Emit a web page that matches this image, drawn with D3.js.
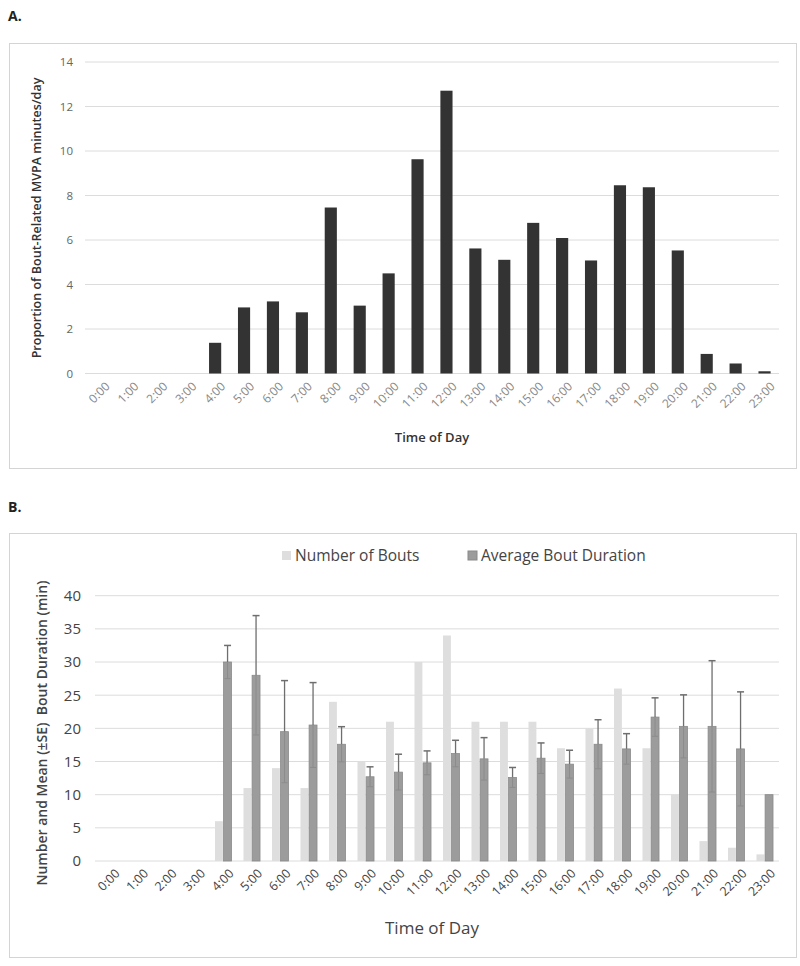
<!DOCTYPE html>
<html>
<head>
<meta charset="utf-8">
<script src="https://cdn.jsdelivr.net/npm/d3@7"></script>
<style>
  body { margin: 0; background: #fff; }
  svg text { font-family: "Open Sans", sans-serif; }
</style>
</head>
<body>
<div id="g-container"></div>
<script>
	// categories and values
	var hours = ["0:00","1:00","2:00","3:00","4:00","5:00","6:00","7:00","8:00","9:00","10:00","11:00",
		"12:00","13:00","14:00","15:00","16:00","17:00","18:00","19:00","20:00","21:00","22:00","23:00"];

	var mvpaProportion = [0,0,0,0,1.38,2.97,3.24,2.75,7.46,3.05,4.5,9.63,12.71,5.62,5.11,6.77,6.09,5.08,8.46,8.37,5.53,0.88,0.45,0.1];
	var yTicksA = [0,2,4,6,8,10,12,14];

	var numberOfBouts = [0,0,0,0,6,11,14,11,24,15,21,30,34,21,21,21,17,20,26,17,10,3,2,1];
	var avgBoutDuration = [0,0,0,0,30,28,19.5,20.5,17.6,12.7,13.4,14.8,16.2,15.4,12.6,15.5,14.6,17.6,16.9,21.7,20.3,20.3,16.9,10];
	var boutSE = [0,0,0,0,2.5,9,7.7,6.4,2.65,1.5,2.7,1.8,2.0,3.2,1.5,2.3,2.1,3.7,2.3,2.9,4.75,9.9,8.6,0];
	var yTicksB = [0,5,10,15,20,25,30,35,40];
	var seriesNames = ["Number of Bouts", "Average Bout Duration"];

	var W = 800, H = 966;
	var svg = d3.select("#g-container").append("svg").attr("width", W).attr("height", H)

	svg.append("rect").attr("width", W).attr("height", H).attr("fill", "#fff")

	// ---------- panel A ----------
	svg.append("text").attr("x", 8).attr("y", 21).text("A.")
		.style("font-size", "14px").style("font-weight", "bold").style("fill", "#222")

	svg.append("rect").attr("x", 9.5).attr("y", 43.5).attr("width", 787).attr("height", 425)
		.attr("fill", "none").attr("stroke", "#d4d4d4")

	var xA = d3.scaleBand().domain(hours).range([85, 779]).paddingInner(0.58).paddingOuter(0.29)
	var yA = d3.scaleLinear().domain([0, 14]).range([373.5, 62])

	var gA = svg.append("g")
	gA.selectAll(".gridA").data(yTicksA).enter().append("line")
		.attr("x1", 85).attr("x2", 779)
		.attr("y1", function(d){ return yA(d) }).attr("y2", function(d){ return yA(d) })
		.attr("stroke", "#dcdcdc").attr("stroke-width", 1)

	var axisA = gA.append("g").attr("transform", "translate(85,0)")
		.call(d3.axisLeft(yA).tickValues(yTicksA).tickSize(0).tickPadding(12))
	axisA.select(".domain").remove()
	axisA.selectAll("text").style("font-size", "11.5px").style("fill", "#666").style("font-family", "Open Sans, sans-serif")

	gA.selectAll(".barA").data(mvpaProportion).enter().append("rect")
		.attr("x", function(d, i){ return xA(hours[i]) })
		.attr("width", xA.bandwidth())
		.attr("y", function(d){ return yA(d) })
		.attr("height", function(d){ return yA(0) - yA(d) })
		.attr("fill", "#333")

	var xAxisA = gA.append("g").attr("transform", "translate(0,378)")
		.call(d3.axisBottom(xA).tickSize(0).tickPadding(0))
	xAxisA.select(".domain").remove()
	xAxisA.selectAll("text")
		.attr("text-anchor", "end")
		.attr("transform", "translate(6,4) rotate(-45)")
		.attr("dy", "0.6em")
		.style("font-size", "12px").style("fill", "#888").style("font-family", "Open Sans, sans-serif")

	gA.append("text").attr("x", 432).attr("y", 442).attr("text-anchor", "middle")
		.text("Time of Day")
		.style("font-size", "13px").style("font-weight", "600").style("fill", "#333")

	gA.append("text").attr("transform", "translate(41,218) rotate(-90)").attr("text-anchor", "middle")
		.text("Proportion of Bout-Related MVPA minutes/day")
		.style("font-size", "12.5px").style("font-weight", "600").style("fill", "#333")

	// ---------- panel B ----------
	svg.append("text").attr("x", 8).attr("y", 512).text("B.")
		.style("font-size", "14px").style("font-weight", "bold").style("fill", "#222")

	svg.append("rect").attr("x", 9.5).attr("y", 533.5).attr("width", 787).attr("height", 424)
		.attr("fill", "none").attr("stroke", "#d4d4d4")

	var xB = d3.scaleBand().domain(hours).range([95, 779]).paddingInner(0.42).paddingOuter(0.21)
	var xSub = d3.scaleBand().domain(seriesNames).range([0, xB.bandwidth()]).paddingInner(0.08)
	var yB = d3.scaleLinear().domain([0, 40]).range([861, 595.7])
	var colors = {"Number of Bouts": "#dedede", "Average Bout Duration": "#9c9c9c"}

	var gB = svg.append("g")
	gB.selectAll(".gridB").data(yTicksB).enter().append("line")
		.attr("x1", 95).attr("x2", 779)
		.attr("y1", function(d){ return yB(d) }).attr("y2", function(d){ return yB(d) })
		.attr("stroke", "#dcdcdc").attr("stroke-width", 1)

	var axisB = gB.append("g").attr("transform", "translate(95,0)")
		.call(d3.axisLeft(yB).tickValues(yTicksB).tickSize(0).tickPadding(14))
	axisB.select(".domain").remove()
	axisB.selectAll("text").style("font-size", "15px").style("fill", "#444").style("font-family", "Open Sans, sans-serif")

	gB.selectAll(".barN").data(numberOfBouts).enter().append("rect")
		.attr("x", function(d, i){ return xB(hours[i]) + xSub(seriesNames[0]) })
		.attr("width", xSub.bandwidth())
		.attr("y", function(d){ return yB(d) })
		.attr("height", function(d){ return yB(0) - yB(d) })
		.attr("fill", colors[seriesNames[0]])

	gB.selectAll(".barD").data(avgBoutDuration).enter().append("rect")
		.attr("x", function(d, i){ return xB(hours[i]) + xSub(seriesNames[1]) })
		.attr("width", xSub.bandwidth())
		.attr("y", function(d){ return yB(d) })
		.attr("height", function(d){ return yB(0) - yB(d) })
		.attr("fill", colors[seriesNames[1]])
		.attr("stroke", function(d){ return d > 0 ? "#8a8a8a" : "none" })
		.attr("stroke-width", 0.8)

	// error bars (mean +/- SE)
	var errData = avgBoutDuration.map(function(d, i){ return {m: d, se: boutSE[i], h: hours[i]} })
		.filter(function(e){ return e.se > 0 })
	var eg = gB.selectAll(".eb").data(errData).enter().append("g")
		.attr("transform", function(e){ return "translate(" + (xB(e.h) + xSub(seriesNames[1]) + xSub.bandwidth()/2) + ",0)" })
	eg.append("line").attr("x1", 0).attr("x2", 0)
		.attr("y1", function(e){ return yB(e.m) }).attr("y2", function(e){ return yB(e.m + e.se) })
		.attr("stroke", "#6e6e6e").attr("stroke-width", 1.3)
	eg.append("line").attr("x1", 0).attr("x2", 0)
		.attr("y1", function(e){ return yB(e.m) }).attr("y2", function(e){ return yB(e.m - e.se) })
		.attr("stroke", "#8c8c8c").attr("stroke-width", 1)
	eg.append("line").attr("x1", -3.5).attr("x2", 3.5)
		.attr("y1", function(e){ return yB(e.m + e.se) }).attr("y2", function(e){ return yB(e.m + e.se) })
		.attr("stroke", "#6e6e6e").attr("stroke-width", 1.5)
	eg.append("line").attr("x1", -3).attr("x2", 3)
		.attr("y1", function(e){ return yB(e.m - e.se) }).attr("y2", function(e){ return yB(e.m - e.se) })
		.attr("stroke", "#8c8c8c").attr("stroke-width", 1)

	var xAxisB = gB.append("g").attr("transform", "translate(0,865)")
		.call(d3.axisBottom(xB).tickSize(0).tickPadding(0))
	xAxisB.select(".domain").remove()
	xAxisB.selectAll("text")
		.attr("text-anchor", "end")
		.attr("transform", "translate(6,4) rotate(-45)")
		.attr("dy", "0.6em")
		.style("font-size", "12.5px").style("fill", "#444").style("font-family", "Open Sans, sans-serif")

	gB.append("text").attr("x", 432).attr("y", 934).attr("text-anchor", "middle")
		.text("Time of Day")
		.style("font-size", "17px").style("fill", "#444")

	gB.append("text").attr("transform", "translate(47,733) rotate(-90)").attr("text-anchor", "middle")
		.text("Number and Mean (\u00b1SE)  Bout Duration (min)")
		.style("font-size", "14px").style("font-weight", "600").style("fill", "#444")
		.attr("xml:space", "preserve").style("white-space", "pre")

	// legend
	var leg = gB.selectAll(".leg").data(seriesNames).enter().append("g")
		.attr("transform", function(d, i){ return "translate(" + (i == 0 ? 282 : 468) + ",551)" })
	leg.append("rect").attr("width", 9).attr("height", 9)
		.attr("fill", function(d){ return colors[d] })
		.attr("stroke", function(d, i){ return i == 1 ? "#8a8a8a" : "none" })
	leg.append("text").attr("x", 13).attr("y", 9.5).text(function(d){ return d })
		.style("font-size", "15.5px").style("fill", "#444")
</script>
</body>
</html>
